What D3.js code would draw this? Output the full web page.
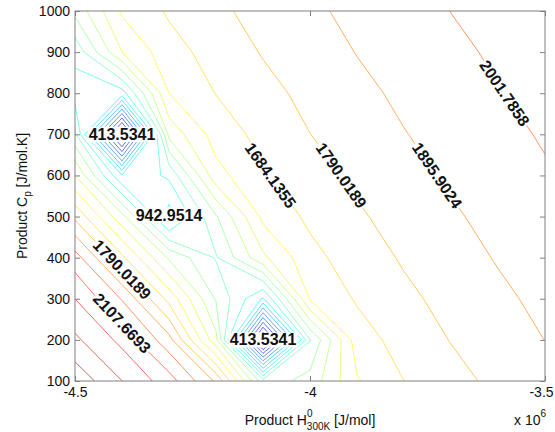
<!DOCTYPE html>
<html>
<head>
<meta charset="utf-8">
<script src="https://cdn.jsdelivr.net/npm/d3@7"></script>
<style>
  body { margin: 0; background: #fff; }
  text { font-family: "Liberation Sans", Arial, sans-serif; }
</style>
</head>
<body>
<script>
// grid nodes: product enthalpy (columns) and product Cp (rows, top to bottom)
let hNodes = [-4.5e6, -4.4e6, -4.3e6, -4.2e6, -4.1e6, -4.0e6, -3.9e6, -3.8e6, -3.7e6, -3.6e6, -3.5e6];
let cpNodes = [1000, 900, 800, 700, 600, 500, 400, 300, 200, 100];

// objective values, one row per Cp value
let z1000 = [1290, 1594, 1698, 1769, 1826, 1877, 1922, 1962, 2003, 2036, 2069];
let z900  = [1080, 1472, 1642, 1728, 1797, 1848, 1899, 1939, 1980, 2017, 2050];
let z800  = [1000, 1000, 1578, 1687, 1758, 1818, 1870, 1916, 1956, 1997, 2031];
let z700  = [1180,   30, 1400, 1625, 1717, 1789, 1840, 1892, 1933, 1973, 2012];
let z600  = [1472,  950, 1070, 1540, 1672, 1748, 1811, 1862, 1910, 1951, 1991];
let z500  = [1767, 1400,  890, 1250, 1606, 1705, 1776, 1831, 1883, 1926, 1967];
let z400  = [2048, 1707, 1350, 1145, 1450, 1654, 1735, 1802, 1855, 1903, 1944];
let z300  = [2213, 1994, 1650, 1250,  930, 1590, 1695, 1766, 1824, 1876, 1920];
let z200  = [2340, 2185, 1934, 1400,   30, 1150, 1637, 1725, 1794, 1847, 1897];
let z100  = [2500, 2320, 2155, 1880, 1200, 1300, 1568, 1684, 1755, 1816, 1868];
let zRows = [z1000, z900, z800, z700, z600, z500, z400, z300, z200, z100];

// contour levels
let levels = [95.8838, 201.7673, 307.6507, 413.5341, 519.4176, 625.3010, 731.1845,
  837.0679, 942.9514, 1048.8348, 1154.7183, 1260.6017, 1366.4852, 1472.3686,
  1578.2521, 1684.1355, 1790.0189, 1895.9024, 2001.7858, 2107.6693, 2213.5527,
  2319.4362, 2425.3196];

// inline labels: level and where it sits
let labelLevels = [413.5341, 413.5341, 942.9514, 1684.1355, 1790.0189, 1895.9024, 2001.7858, 1790.0189, 2107.6693];
let labelH = [-4.4e6, -4.1e6, -4.3e6, -4.096e6, -3.947e6, -3.743e6, -3.596e6, -4.398e6, -4.406e6];
let labelCp = [700, 200, 504, 594, 594, 596, 798, 394, 231];

let xTicks = [-4.5e6, -4.0e6, -3.5e6];
let yTicks = [100, 200, 300, 400, 500, 600, 700, 800, 900, 1000];

let jet = ["#00008f", "#0000ff", "#0080ff", "#00ffff", "#80ff80", "#ffff00", "#ff8000", "#ff0000", "#800000"];

let width = 555;
let height = 432;
let margin = ({top: 11, right: 10, bottom: 51, left: 75});

let x = d3.scaleLinear()
  .domain([hNodes[0], hNodes[hNodes.length - 1]])
  .range([margin.left, width - margin.right]);

let y = d3.scaleLinear()
  .domain([100, 1000])
  .range([height - margin.bottom, margin.top]);

// grid index -> data
let nx = hNodes.length, ny = cpNodes.length;
let gx = d3.scaleLinear().domain([0.5, nx - 0.5]).range([hNodes[0], hNodes[nx - 1]]);
let gy = d3.scaleLinear().domain([0.5, ny - 0.5]).range([cpNodes[0], cpNodes[ny - 1]]);

let values = zRows.flat();
let color = d3.scaleSequential(d3.piecewise(d3.interpolateRgb, jet))
  .domain(d3.extent(values));

let contours = d3.contours()
  .size([nx, ny])
  .thresholds(levels)(values);

let path = d3.geoPath(d3.geoTransform({
  point: function(px, py) { this.stream.point(x(gx(px)), y(gy(py))); }
}));

let svg = d3.select("body")
  .append("svg")
  .attr("width", width)
  .attr("height", height);

svg.append("defs").append("clipPath")
    .attr("id", "plot")
  .append("rect")
    .attr("x", x.range()[0])
    .attr("y", y.range()[1])
    .attr("width", x.range()[1] - x.range()[0])
    .attr("height", y.range()[0] - y.range()[1]);

svg.append("g")
    .attr("clip-path", "url(#plot)")
    .attr("fill", "none")
  .selectAll("path")
  .data(contours)
  .join("path")
    .attr("d", path)
    .attr("stroke", d => color(d.value))
    .attr("stroke-opacity", 0.6)
    .attr("stroke-width", 1);

// labels sit on their contour, turned along it, with a white gap behind
let fmt = d3.format(".4f");
let labels = svg.append("g");
labelLevels.forEach((v, i) => {
  let c = contours.find(d => Math.abs(d.value - v) < 0.01);
  let ax = x(labelH[i]), ay = y(labelCp[i]);
  let best = null, bestD = Infinity, bestRing = null, bestIdx = 0;
  c.coordinates.forEach(poly => poly.forEach(ring => {
    let pts = ring.map(p => [x(gx(p[0])), y(gy(p[1]))]);
    pts.forEach((p, k) => {
      let dd = (p[0] - ax) ** 2 + (p[1] - ay) ** 2;
      if (dd < bestD) { bestD = dd; best = p; bestRing = pts; bestIdx = k; }
    });
  }));
  let [x0, x1] = d3.extent(bestRing, p => p[0]);
  let px = ax, py = ay, angle = 0;
  if (x1 - x0 > 80) {
    let n = bestRing.length;
    let a = bestRing[(bestIdx - 1 + n) % n], b = bestRing[(bestIdx + 1) % n];
    angle = Math.atan2(b[1] - a[1], b[0] - a[0]) * 180 / Math.PI;
    if (angle > 90) angle -= 180;
    if (angle < -90) angle += 180;
    px = best[0]; py = best[1];
  }
  let g = labels.append("g")
    .attr("transform", `translate(${px},${py}) rotate(${angle})`);
  let t = g.append("text")
    .attr("text-anchor", "middle")
    .attr("dy", "0.35em")
    .attr("font-size", 16)
    .attr("font-weight", "bold")
    .attr("fill", "#111")
    .text(fmt(v));
  let bb = t.node().getBBox();
  g.insert("rect", "text")
    .attr("x", bb.x - 1)
    .attr("y", bb.y + 1)
    .attr("width", bb.width + 2)
    .attr("height", bb.height - 2)
    .attr("fill", "#fff");
});

// axes
let axisColor = "#808080";
let styleAxis = g => {
  g.select(".domain").remove();
  g.selectAll(".tick line").attr("stroke", axisColor);
  g.selectAll(".tick text").attr("fill", "#111").attr("font-size", 14)
    .attr("font-family", "Liberation Sans, Arial, sans-serif");
};

svg.append("g")
    .attr("transform", `translate(0,${y.range()[0]})`)
    .call(d3.axisBottom(x).tickValues(xTicks).tickSize(-5).tickPadding(6)
      .tickFormat(d => `${d / 1e6}`))
    .call(styleAxis)
    .call(g => g.selectAll(".tick:last-of-type text").attr("dx", -4));

svg.append("g")
    .attr("transform", `translate(0,${y.range()[1]})`)
    .call(d3.axisTop(x).tickValues(xTicks).tickSize(-5).tickFormat(""))
    .call(styleAxis);

svg.append("g")
    .attr("transform", `translate(${x.range()[0]},0)`)
    .call(d3.axisLeft(y).tickValues(yTicks).tickSize(-5).tickPadding(5)
      .tickFormat(d3.format("d")))
    .call(styleAxis);

svg.append("g")
    .attr("transform", `translate(${x.range()[1]},0)`)
    .call(d3.axisRight(y).tickValues(yTicks).tickSize(-5).tickFormat(""))
    .call(styleAxis);

svg.append("rect")
    .attr("x", x.range()[0])
    .attr("y", y.range()[1])
    .attr("width", x.range()[1] - x.range()[0])
    .attr("height", y.range()[0] - y.range()[1])
    .attr("fill", "none")
    .attr("stroke", axisColor);

// axis titles
let xt = svg.append("text")
    .attr("x", (x.range()[0] + x.range()[1]) / 2)
    .attr("y", 425)
    .attr("text-anchor", "middle")
    .attr("font-size", 14)
    .attr("fill", "#111");
xt.append("tspan").text("Product H");
xt.append("tspan").attr("font-size", 10).attr("dy", -8).text("0");
xt.append("tspan").attr("font-size", 10).attr("dx", -5.6).attr("dy", 13).text("300K");
xt.append("tspan").attr("dy", -5).text(" [J/mol]");

let yt = svg.append("text")
    .attr("transform", `translate(27,${(y.range()[0] + y.range()[1]) / 2}) rotate(-90)`)
    .attr("text-anchor", "middle")
    .attr("font-size", 14)
    .attr("fill", "#111");
yt.append("tspan").text("Product C");
yt.append("tspan").attr("font-size", 10).attr("dy", 4).text("p");
yt.append("tspan").attr("dy", -4).text(" [J/mol.K]");

let ex = svg.append("text")
    .attr("x", 514)
    .attr("y", 425)
    .attr("font-size", 14)
    .attr("fill", "#111");
ex.append("tspan").text("x 10");
ex.append("tspan").attr("font-size", 10).attr("dy", -8).text("6");
</script>
</body>
</html>
